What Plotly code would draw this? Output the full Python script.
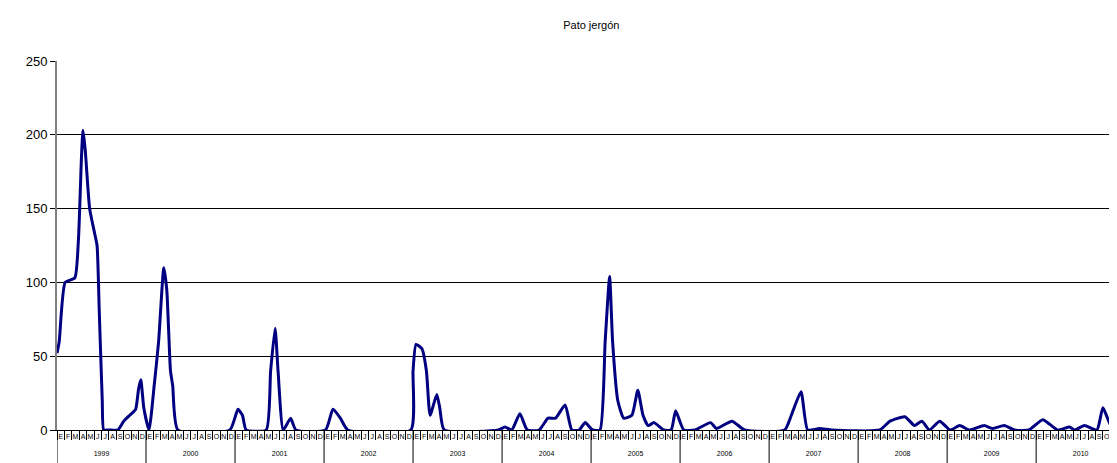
import plotly.graph_objects as go

# month position (0 = start of Jan 1999) and count
month_pos = [0, 0.3, 1.1, 2.4, 2.9, 3.3, 3.5, 3.8, 4.4, 5.0, 5.4, 5.7, 6.1, 6.3, 7.0, 8.2, 9.0, 9.8, 10.6, 11.0, 11.3, 11.7, 12.4,
             13.1, 13.7, 14.4, 14.8, 15.3, 15.6, 16.3, 23.3, 24.4, 25.0, 25.5, 28.2, 28.8, 29.4, 29.8, 30.5, 31.5, 32.2,
             36.2, 37.2, 38.2, 39.2, 47.7, 48.0, 48.4, 49.2, 49.8, 50.3, 51.2, 51.6, 52.2, 59.5, 60.4, 61.3, 62.4, 63.4,
             65.0, 66.2, 67.2, 68.5, 69.4, 70.4, 71.2, 72.2, 73.2, 73.9, 74.5, 74.9, 75.6, 76.4, 77.5, 78.3, 79.0, 79.7,
             80.5, 81.8, 82.8, 83.4, 84.5, 86.0, 88.1, 88.9, 91.0, 92.7, 98.1, 99.0, 100.3, 101.2, 102.8, 104.5, 110.9,
             112.3, 114.3, 115.6, 116.6, 117.6, 119.0, 120.4, 121.7, 123.0, 125.0, 126.1, 127.7, 129.1, 131.0, 132.9,
             134.9, 136.5, 137.2, 138.5, 140.2, 141.0, 142.2, 143.5, 145.0]
counts = [52, 60, 100, 103, 130, 185, 203, 190, 150, 135, 125, 80, 20, 0, 0, 0, 6, 10, 14, 28, 34, 15, 0,
          30, 60, 110, 95, 40, 30, 0, 0, 14, 10, 0, 0, 40, 69, 40, 0, 8, 0,
          0, 14, 8, 0, 0, 40, 58, 55, 40, 10, 24, 15, 0, 0, 2, 0, 11, 0,
          0, 8, 8, 17, 0, 0, 5, 0, 0, 60, 104, 60, 20, 8, 10, 27, 10, 3,
          5, 0, 0, 13, 0, 0, 5, 1, 6, 0, 0, 10, 26, 0, 1, 0, 0,
          6, 9, 3, 6, 0, 6, 0, 3, 0, 3, 1, 3, 0, 0, 7,
          0, 2, 0, 3, 0, 15, 2, 9, 5]

years = [str(y) for y in range(1999, 2011)]
month_letters = ["E", "F", "M", "A", "M", "J", "J", "A", "S", "O", "N", "D"]

n_months = 12 * len(years)
x_end = 142.9
fig = go.Figure()
fig.add_trace(go.Scatter(x=month_pos, y=counts, mode="lines",
                         line=dict(color="#000080", width=3, shape="spline", smoothing=0.5)))
fig.add_trace(go.Scatter(x=[0], y=[None], xaxis="x2", showlegend=False))

# year separators below the axis
for i in range(len(years) + 1):
    fig.add_shape(type="line", xref="x", yref="paper", x0=12 * i, x1=12 * i, y0=0, y1=-0.09,
                  line=dict(color="black", width=1))

fig.update_layout(
    width=1109, height=455,
    margin=dict(l=49, r=0, t=53, b=33),
    paper_bgcolor="white", plot_bgcolor="white",
    font=dict(family="Liberation Sans, Arial", color="black"),
    title=dict(text="Pato jergón", x=0.526, y=0.97, xanchor="center", font=dict(size=11)),
    showlegend=False,
    xaxis=dict(range=[0, x_end], tickvals=[m + 0.5 for m in range(n_months) if m + 0.5 < x_end - 0.3],
               ticktext=month_letters * len(years), ticks="", tickfont=dict(size=7, color="black"),
               tickangle=0, automargin=False,
               showgrid=False, zeroline=False, showline=True, linecolor="black",
               minor=dict(tick0=0, dtick=1, ticks="outside", ticklen=9, tickcolor="black")),
    xaxis2=dict(overlaying="x", matches="x", side="bottom", anchor="free", position=0,
                tickvals=[12 * i + 6 for i in range(len(years))], ticktext=years, automargin=False,
                ticks="", tickfont=dict(size=7, color="black"), showgrid=False, zeroline=False,
                ticklabelstandoff=18),
    yaxis=dict(range=[0, 250], dtick=50, showgrid=True, gridcolor="black", gridwidth=1,
               showline=True, linecolor="gray", linewidth=2, zeroline=False, automargin=False,
               ticks="outside", ticklen=5, tickcolor="black", tickfont=dict(size=13)),
)

fig.write_html("out.html")
